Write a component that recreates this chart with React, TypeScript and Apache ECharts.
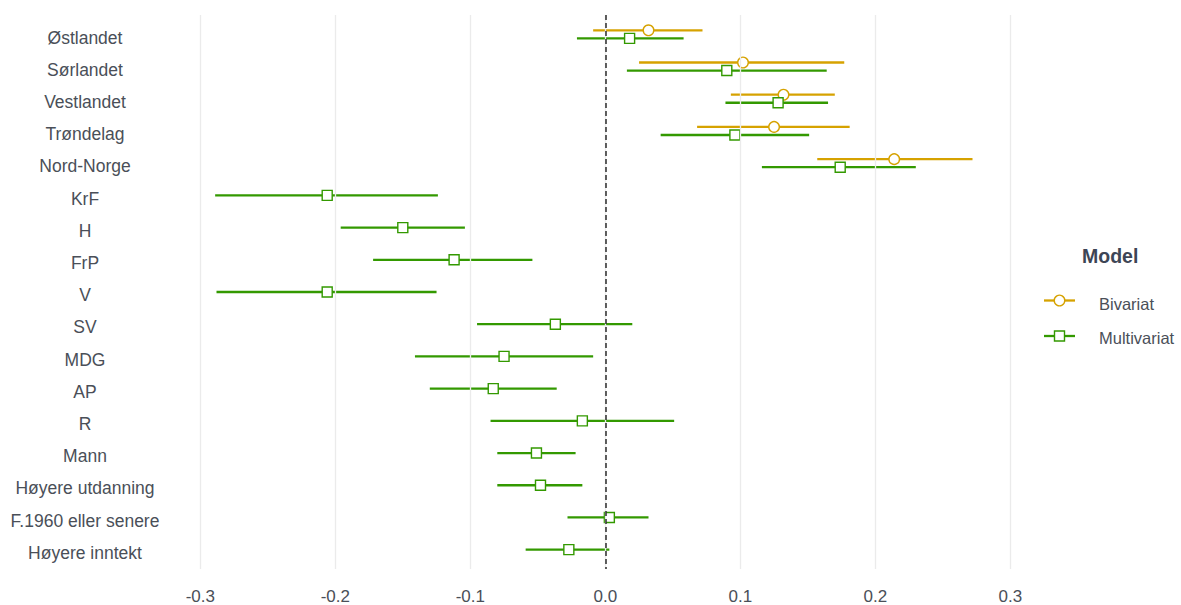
import React, { useEffect, useRef } from "react";
import * as echarts from "echarts";

const categories = [
  "Østlandet", "Sørlandet", "Vestlandet", "Trøndelag", "Nord-Norge",
  "KrF", "H", "FrP", "V", "SV", "MDG", "AP", "R", "Mann",
  "Høyere utdanning", "F.1960 eller senere", "Høyere inntekt",
];

const bivariateCats = ["Østlandet", "Sørlandet", "Vestlandet", "Trøndelag", "Nord-Norge"];
const bivariateEst = [0.032, 0.102, 0.132, 0.125, 0.214];
const bivariateLow = [-0.009, 0.025, 0.093, 0.068, 0.157];
const bivariateHigh = [0.072, 0.177, 0.170, 0.181, 0.272];

const multivariateEst = [0.018, 0.090, 0.128, 0.096, 0.174, -0.206, -0.150, -0.112, -0.206, -0.037, -0.075, -0.083, -0.017, -0.051, -0.048, 0.003, -0.027];
const multivariateLow = [-0.021, 0.016, 0.089, 0.041, 0.116, -0.289, -0.196, -0.172, -0.288, -0.095, -0.141, -0.130, -0.085, -0.080, -0.080, -0.028, -0.059];
const multivariateHigh = [0.058, 0.164, 0.165, 0.151, 0.230, -0.124, -0.104, -0.054, -0.125, 0.020, -0.009, -0.036, 0.051, -0.022, -0.017, 0.032, 0.003];

const xTicks = [-0.3, -0.2, -0.1, 0.0, 0.1, 0.2, 0.3];

const GOLD = "#D6A200";
const GREEN = "#339900";
const TEXT = "#4a4f58";
const FONT = "'Liberation Sans', Arial, sans-serif";
const DODGE = 0.125;
const LABEL_SHIFT = 0.1;

export default function App() {
  const ref = useRef<HTMLDivElement>(null);

  useEffect(() => {
    if (!ref.current) return;
    const chart = echarts.init(ref.current, null, { renderer: "svg" });

    const bivData = bivariateCats.map((c, i) => {
      const idx = categories.indexOf(c);
      return [bivariateEst[i], idx - DODGE, bivariateLow[i], bivariateHigh[i]];
    });
    const multiData = categories.map((c, i) => {
      const off = bivariateCats.includes(c) ? DODGE : 0;
      return [multivariateEst[i], i + off, multivariateLow[i], multivariateHigh[i]];
    });

    const makeRender = (color: string, shape: "circle" | "square") =>
      (params: any, api: any) => {
        const est = api.value(0);
        const y = api.value(1);
        const lo = api.value(2);
        const hi = api.value(3);
        const p0 = api.coord([lo, y]);
        const p1 = api.coord([hi, y]);
        const pc = api.coord([est, y]);
        const marker =
          shape === "circle"
            ? {
                type: "circle",
                shape: { cx: pc[0], cy: pc[1], r: 5.3 },
                style: { fill: "#fff", stroke: color, lineWidth: 1.4 },
              }
            : {
                type: "rect",
                shape: { x: pc[0] - 5, y: pc[1] - 5, width: 10, height: 10 },
                style: { fill: "#fff", stroke: color, lineWidth: 1.4 },
              };
        return {
          type: "group",
          children: [
            {
              type: "line",
              shape: { x1: p0[0], y1: p0[1], x2: p1[0], y2: p1[1] },
              style: { stroke: color, lineWidth: 2.3 },
            },
            marker,
          ],
        };
      };

    const option: any = {
      animation: false,
      backgroundColor: "#ffffff",
      grid: { left: 176, top: 15, width: 837, height: 556 },
      xAxis: {
        type: "value",
        min: -0.318,
        max: 0.302,
        axisLine: { show: false },
        axisTick: { show: false },
        splitLine: { show: false },
        axisLabel: {
          customValues: xTicks,
          formatter: (v: number) => v.toFixed(1),
          color: TEXT,
          fontSize: 17,
          fontFamily: FONT,
          margin: 19,
        },
      },
      yAxis: {
        type: "value",
        inverse: true,
        min: -0.6,
        max: 16.6,
        axisLine: { show: false },
        axisTick: { show: false },
        splitLine: { show: false },
        axisLabel: {
          customValues: categories.map((_, i) => i + LABEL_SHIFT),
          formatter: (v: number) => categories[Math.round(v)] ?? "",
          color: TEXT,
          fontSize: 17.5,
          fontFamily: FONT,
          align: "center",
          margin: 91,
        },
      },
      series: [
        {
          name: "gridlines",
          type: "line",
          data: [],
          z: 1,
          silent: true,
          markLine: {
            silent: true,
            symbol: ["none", "none"],
            label: { show: false },
            lineStyle: { color: "#EBEBEB", width: 1.3, type: "solid" },
            data: xTicks.map((t) => ({ xAxis: t })),
          },
        },
        {
          name: "Bivariat",
          type: "custom",
          z: 2,
          renderItem: makeRender(GOLD, "circle"),
          data: bivData,
        },
        {
          name: "Multivariat",
          type: "custom",
          z: 2,
          renderItem: makeRender(GREEN, "square"),
          data: multiData,
        },
        {
          name: "zero",
          type: "line",
          data: [],
          z: 5,
          silent: true,
          markLine: {
            silent: true,
            symbol: ["none", "none"],
            label: { show: false },
            lineStyle: { color: "#2b2b2b", width: 1.5, type: [5, 3] },
            data: [{ xAxis: 0 }],
          },
        },
      ],
      graphic: [
        {
          type: "text",
          left: 1082,
          top: 246,
          style: { text: "Model", fontSize: 19.5, fontWeight: "bold", fill: "#3d4555", fontFamily: FONT },
        },
        {
          type: "line",
          shape: { x1: 1044, y1: 300.5, x2: 1075, y2: 300.5 },
          style: { stroke: GOLD, lineWidth: 2.3 },
        },
        {
          type: "circle",
          shape: { cx: 1059.5, cy: 300.5, r: 5.3 },
          style: { fill: "#fff", stroke: GOLD, lineWidth: 1.4 },
        },
        {
          type: "text",
          left: 1099,
          top: 295,
          style: { text: "Bivariat", fontSize: 16.5, fill: TEXT, fontFamily: FONT },
        },
        {
          type: "line",
          shape: { x1: 1044, y1: 336, x2: 1075, y2: 336 },
          style: { stroke: GREEN, lineWidth: 2.3 },
        },
        {
          type: "rect",
          shape: { x: 1054.5, y: 331, width: 10, height: 10 },
          style: { fill: "#fff", stroke: GREEN, lineWidth: 1.4 },
        },
        {
          type: "text",
          left: 1099,
          top: 329,
          style: { text: "Multivariat", fontSize: 16.5, fill: TEXT, fontFamily: FONT },
        },
      ],
    };

    chart.setOption(option);
    return () => chart.dispose();
  }, []);

  return (
    <div
      ref={ref}
      style={{ position: "absolute", left: 0, top: 0, width: 1181, height: 605, background: "#fff" }}
    />
  );
}
